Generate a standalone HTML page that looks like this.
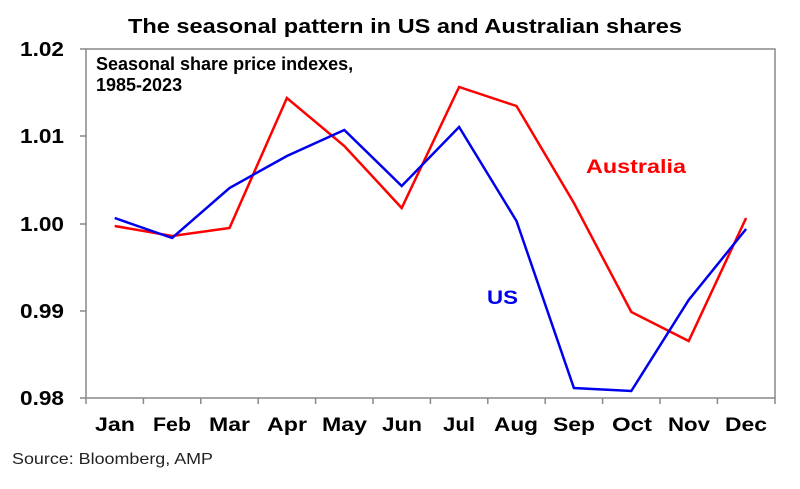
<!DOCTYPE html>
<html><head><meta charset="utf-8"><style>
html,body{margin:0;padding:0;background:#fff;width:800px;height:489px;overflow:hidden}
svg{display:block;font-family:"Liberation Sans",Arial,sans-serif}
</style></head><body>
<svg width="800" height="489" viewBox="0 0 800 489">
<text x="128" y="33" font-size="20" font-weight="bold" fill="#000" textLength="554" lengthAdjust="spacingAndGlyphs">The seasonal pattern in US and Australian shares</text>
<rect x="86" y="49" width="689" height="349" fill="none" stroke="#888" stroke-width="1.5"/>
<g stroke="#888" stroke-width="1.5">
<line x1="80" y1="49" x2="86" y2="49"/><line x1="80" y1="136" x2="86" y2="136"/><line x1="80" y1="224" x2="86" y2="224"/><line x1="80" y1="311" x2="86" y2="311"/><line x1="80" y1="398" x2="86" y2="398"/>
<line x1="86" y1="398" x2="86" y2="404"/><line x1="143.4" y1="398" x2="143.4" y2="404"/><line x1="200.8" y1="398" x2="200.8" y2="404"/><line x1="258.2" y1="398" x2="258.2" y2="404"/><line x1="315.6" y1="398" x2="315.6" y2="404"/><line x1="373" y1="398" x2="373" y2="404"/><line x1="430.4" y1="398" x2="430.4" y2="404"/><line x1="487.8" y1="398" x2="487.8" y2="404"/><line x1="545.2" y1="398" x2="545.2" y2="404"/><line x1="602.6" y1="398" x2="602.6" y2="404"/><line x1="660" y1="398" x2="660" y2="404"/><line x1="717.4" y1="398" x2="717.4" y2="404"/><line x1="775" y1="398" x2="775" y2="404"/>
</g>
<g font-size="20" font-weight="bold" fill="#000" lengthAdjust="spacingAndGlyphs">
<text x="20" y="56" textLength="44" lengthAdjust="spacingAndGlyphs">1.02</text>
<text x="20" y="143" textLength="44" lengthAdjust="spacingAndGlyphs">1.01</text>
<text x="20" y="231" textLength="44" lengthAdjust="spacingAndGlyphs">1.00</text>
<text x="20" y="318" textLength="44" lengthAdjust="spacingAndGlyphs">0.99</text>
<text x="20" y="405" textLength="44" lengthAdjust="spacingAndGlyphs">0.98</text>
</g>
<g font-size="19" font-weight="bold" fill="#000">
<text x="95" y="431" textLength="40" lengthAdjust="spacingAndGlyphs">Jan</text>
<text x="153" y="431" textLength="38" lengthAdjust="spacingAndGlyphs">Feb</text>
<text x="209" y="431" textLength="41" lengthAdjust="spacingAndGlyphs">Mar</text>
<text x="267" y="431" textLength="40" lengthAdjust="spacingAndGlyphs">Apr</text>
<text x="322" y="431" textLength="45" lengthAdjust="spacingAndGlyphs">May</text>
<text x="382" y="431" textLength="40" lengthAdjust="spacingAndGlyphs">Jun</text>
<text x="443" y="431" textLength="32" lengthAdjust="spacingAndGlyphs">Jul</text>
<text x="494" y="431" textLength="44" lengthAdjust="spacingAndGlyphs">Aug</text>
<text x="553" y="431" textLength="42" lengthAdjust="spacingAndGlyphs">Sep</text>
<text x="612" y="431" textLength="40" lengthAdjust="spacingAndGlyphs">Oct</text>
<text x="668" y="431" textLength="42" lengthAdjust="spacingAndGlyphs">Nov</text>
<text x="725" y="431" textLength="42" lengthAdjust="spacingAndGlyphs">Dec</text>
</g>
<text x="96" y="70" font-size="18" font-weight="bold" fill="#000">Seasonal share price indexes,</text>
<text x="96" y="91" font-size="18" font-weight="bold" fill="#000">1985-2023</text>
<polyline fill="none" stroke="#ff0000" stroke-width="2.5" points="114.7,226 172.1,236 229.5,228 286.9,98 344.3,146 401.7,208 459.1,87 516.5,106 573.9,203 631.3,312 688.7,341 746.1,218"/>
<polyline fill="none" stroke="#0000ee" stroke-width="2.5" points="114.7,218 172.1,238 229.5,188 286.9,156 344.3,130 401.7,186 459.1,127 516.5,221 573.9,388 631.3,391 688.7,300 746.1,229"/>
<text x="586" y="173" font-size="19" font-weight="bold" fill="#ff0000" textLength="100" lengthAdjust="spacingAndGlyphs">Australia</text>
<text x="487" y="304" font-size="19" font-weight="bold" fill="#0000ee" textLength="31" lengthAdjust="spacingAndGlyphs">US</text>
<text x="12" y="464" font-size="16" fill="#222" textLength="201" lengthAdjust="spacingAndGlyphs">Source: Bloomberg, AMP</text>
</svg>
</body></html>
